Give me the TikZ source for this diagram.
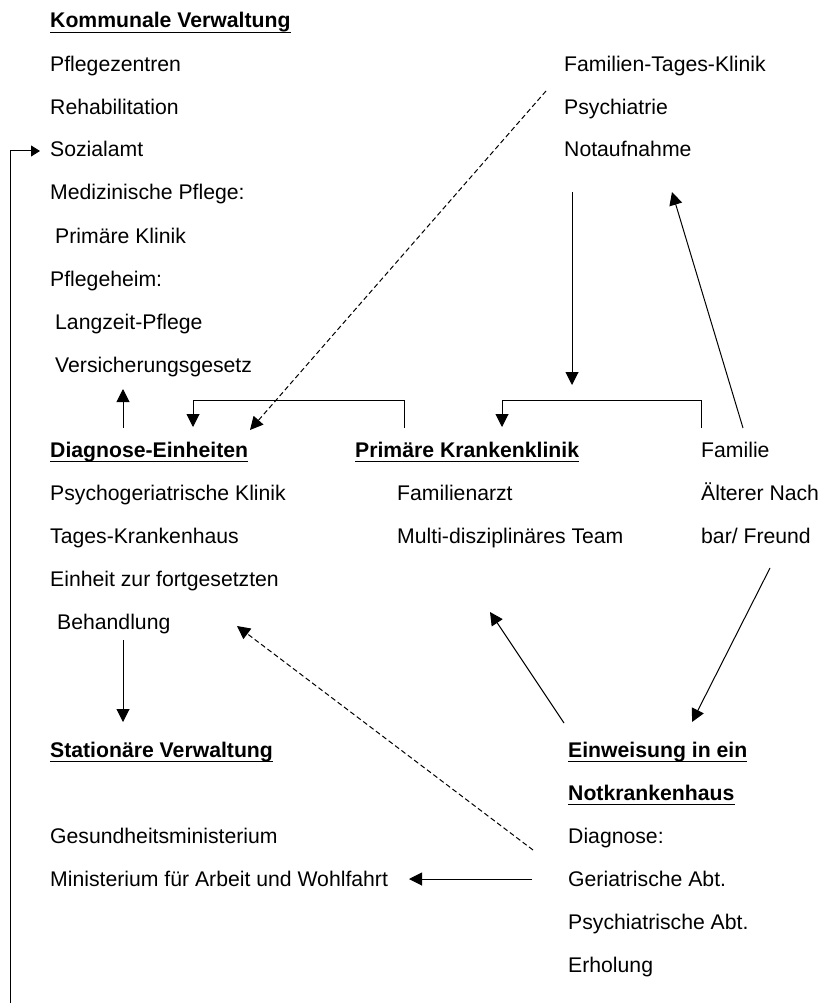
\documentclass[tikz,border=0pt]{standalone}
\usepackage{fontspec}
\setmainfont{Liberation Sans}
\usetikzlibrary{arrows.meta}
\begin{document}
\begin{tikzpicture}[x=1pt,y=-1pt,
  txt/.style={anchor=base west,inner sep=0pt,font=\fontsize{21.2}{25}\selectfont},
  head/.style={txt,font=\fontsize{21.2}{25}\selectfont\bfseries},
  conn/.style={line width=1pt,-{Triangle[length=13pt,width=13pt]}},
  dconn/.style={conn,dash pattern=on 5pt off 3pt},
  uline/.style={line width=1.8pt}]
\useasboundingbox (0,0) rectangle (823,1003);
% left column top
\node[head] (kv) at (50,28) {Kommunale Verwaltung};
\node[txt] (pz) at (50,72) {Pflegezentren};
\node[txt] (reh) at (50,115) {Rehabilitation};
\node[txt] (soz) at (50,157) {Sozialamt};
\node[txt] (med) at (50,200) {Medizinische Pflege:};
\node[txt] (pk) at (55,243) {Primäre Klinik};
\node[txt] (ph) at (50,286) {Pflegeheim:};
\node[txt] (lz) at (55,329) {Langzeit-Pflege};
\node[txt] (vg) at (55,372) {Versicherungsgesetz};
% right top
\node[txt] (ftk) at (564,72) {Familien-Tages-Klinik};
\node[txt] (psy) at (564,115) {Psychiatrie};
\node[txt] (nota) at (564,157) {Notaufnahme};
% middle row
\node[head] (de) at (50,457) {Diagnose-Einheiten};
\node[txt] (pgk) at (50,500) {Psychogeriatrische Klinik};
\node[txt] (tkh) at (50,543) {Tages-Krankenhaus};
\node[txt] (ezf) at (50,586) {Einheit zur fortgesetzten};
\node[txt] (beh) at (57,629) {Behandlung};
\node[head] (pkk) at (355,457) {Primäre Krankenklinik};
\node[txt] (fa) at (397,500) {Familienarzt};
\node[txt] (mdt) at (397,543) {Multi-disziplinäres Team};
\node[txt] (fam) at (701,457) {Familie};
\node[txt] (aen) at (701,500) {Älterer Nach};
\node[txt] (bf) at (701,543) {bar/ Freund};
% bottom
\node[head] (sv) at (50,757) {Stationäre Verwaltung};
\node[txt] (gm) at (50,843) {Gesundheitsministerium};
\node[txt] (maw) at (50,886) {Ministerium für Arbeit und Wohlfahrt};
\node[head] (ein1) at (568,757) {Einweisung in ein};
\node[head] (ein2) at (568,800) {Notkrankenhaus};
\node[txt] (dia) at (568,843) {Diagnose:};
\node[txt] (ger) at (568,886) {Geriatrische Abt.};
\node[txt] (psa) at (568,929) {Psychiatrische Abt.};
\node[txt] (erh) at (568,972) {Erholung};
% underlines
\foreach \n in {kv,de,pkk,sv,ein1,ein2}
  \draw[uline] ([yshift=-4.5pt]\n.base west) -- ([yshift=-4.5pt]\n.base east);
% connector end points
\coordinate (leftbot) at (10,1003);
\coordinate (sozin) at (40,151);
\coordinate (vgbot) at (123,389);
\coordinate (detop) at (123,428);
\coordinate (dein) at (193,427);
\coordinate (pkktop) at (404,428);
\coordinate (pkkin) at (502,427);
\coordinate (famtop) at (701,428);
\coordinate (notabot) at (572,192);
\coordinate (notain) at (572,385);
\coordinate (famup) at (743,428);
\coordinate (notaup) at (672,192);
\coordinate (ftkout) at (546,91);
\coordinate (dedash) at (250,430);
\coordinate (behbot) at (123,640);
\coordinate (svtop) at (123,722);
\coordinate (bfbot) at (770,568);
\coordinate (einin) at (692,722);
\coordinate (einout) at (564,723);
\coordinate (mdtin) at (490,612);
\coordinate (gerdash) at (533,850);
\coordinate (behdash) at (237,626);
\coordinate (gerout) at (532,879);
\coordinate (mawin) at (409,879);
% connectors
\draw[line width=1pt,-{Triangle[length=9pt,width=11pt]}] (leftbot) |- (sozin);
\draw[conn] (detop) -- (vgbot);
\draw[conn] (pkktop) -- ++(0,-28) -| (dein);
\draw[conn] (famtop) -- ++(0,-28) -| (pkkin);
\draw[conn] (notabot) -- (notain);
\draw[conn] (famup) -- (notaup);
\draw[dconn] (ftkout) -- (dedash);
\draw[conn] (behbot) -- (svtop);
\draw[conn] (bfbot) -- (einin);
\draw[conn] (einout) -- (mdtin);
\draw[dconn] (gerdash) -- (behdash);
\draw[conn] (gerout) -- (mawin);
\end{tikzpicture}
\end{document}
